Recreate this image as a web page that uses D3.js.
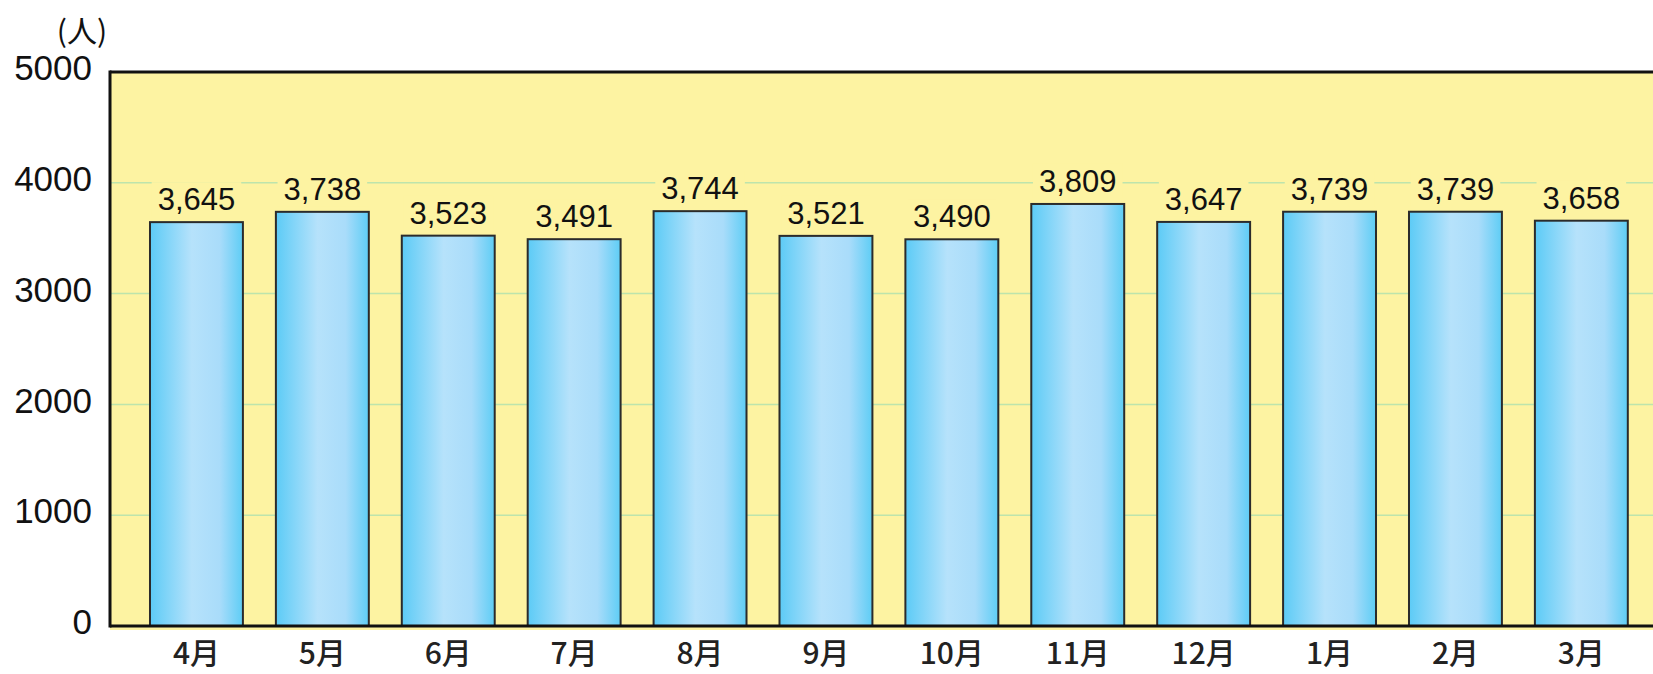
<!DOCTYPE html>
<html>
<head>
<meta charset="utf-8">
<script src="https://cdn.jsdelivr.net/npm/d3@7"></script>
<style>
  body { margin: 0; background: #fff; }
  svg { display: block; }
</style>
</head>
<body>
<div id="chart"></div>
<script>
// Data
const months = ["4月", "5月", "6月", "7月", "8月", "9月", "10月", "11月", "12月", "1月", "2月", "3月"];
const visitors = [3645, 3738, 3523, 3491, 3744, 3521, 3490, 3809, 3647, 3739, 3739, 3658];
const yTicks = [0, 1000, 2000, 3000, 4000, 5000];
const unitLabel = "(人)";

const width = 1653;
const height = 674;

const svg = d3.select("#chart")
  .append("svg")
  .attr("width", width)
  .attr("height", height);

// Scales
const yScale = d3.scaleLinear().domain([0, 5000]).range([626, 72]);
const xScale = d3.scaleBand()
  .domain(months)
  .range([133.5, 1644.3])
  .paddingInner(0.262)
  .paddingOuter(0.131);

// Bar gradient
const defs = svg.append("defs");
const grad = defs.append("linearGradient")
  .attr("id", "barGrad")
  .attr("x1", "0%").attr("x2", "100%")
  .attr("y1", "0%").attr("y2", "0%");
grad.append("stop").attr("offset", "0%").attr("stop-color", "#5ccbf6");
grad.append("stop").attr("offset", "45%").attr("stop-color", "#b6e2fb");
grad.append("stop").attr("offset", "75%").attr("stop-color", "#a9dcfa");
grad.append("stop").attr("offset", "100%").attr("stop-color", "#5ecdf5");

// Plot background
svg.append("rect")
  .attr("x", 110)
  .attr("y", yScale(5000))
  .attr("width", width - 110 + 20)
  .attr("height", yScale(0) - yScale(5000) + 4)
  .attr("fill", "#fdf3a2");

// Gridlines
svg.append("g")
  .selectAll("line")
  .data(yTicks.filter((d) => d > 0 && d < 5000))
  .join("line")
  .attr("x1", 110)
  .attr("x2", width + 10)
  .attr("y1", (d) => yScale(d))
  .attr("y2", (d) => yScale(d))
  .attr("stroke", "#bde4ac")
  .attr("stroke-width", 1.5);

// Bars
svg.append("g")
  .selectAll("rect")
  .data(visitors)
  .join("rect")
  .attr("x", (d, i) => xScale(months[i]))
  .attr("y", (d) => yScale(d))
  .attr("width", xScale.bandwidth())
  .attr("height", (d) => yScale(0) - yScale(d))
  .attr("fill", "url(#barGrad)")
  .attr("stroke", "#2b2b2b")
  .attr("stroke-width", 2);

// Value labels with background to break the gridline
const labels = svg.append("g")
  .selectAll("g")
  .data(visitors)
  .join("g");

labels.append("rect").attr("fill", "#fdf3a2");
labels.append("text")
  .attr("x", (d, i) => xScale(months[i]) + xScale.bandwidth() / 2)
  .attr("y", (d) => yScale(d) - 12)
  .attr("text-anchor", "middle")
  .attr("font-family", "'Liberation Sans', Arial, sans-serif")
  .attr("font-size", 31)
  .attr("fill", "#111")
  .text((d) => d3.format(",")(d));

labels.each(function () {
  const g = d3.select(this);
  const box = g.select("text").node().getBBox();
  g.select("rect")
    .attr("x", box.x - 6)
    .attr("y", box.y)
    .attr("width", box.width + 12)
    .attr("height", box.height);
});

// Frame lines
svg.append("line")
  .attr("x1", 110).attr("x2", width + 10)
  .attr("y1", yScale(5000)).attr("y2", yScale(5000))
  .attr("stroke", "#111").attr("stroke-width", 3);
svg.append("line")
  .attr("x1", 110).attr("x2", 110)
  .attr("y1", yScale(5000) - 1.5).attr("y2", yScale(0) + 1.5)
  .attr("stroke", "#111").attr("stroke-width", 3);
svg.append("line")
  .attr("x1", 110).attr("x2", width + 10)
  .attr("y1", yScale(0)).attr("y2", yScale(0))
  .attr("stroke", "#111").attr("stroke-width", 3);

// Y axis labels
svg.append("g")
  .selectAll("text")
  .data(yTicks)
  .join("text")
  .attr("x", 92)
  .attr("y", (d) => yScale(d) - 4)
  .attr("dy", "0.35em")
  .attr("text-anchor", "end")
  .attr("font-family", "'Liberation Sans', Arial, sans-serif")
  .attr("font-size", 35)
  .attr("fill", "#111")
  .text((d) => d);

// X axis labels
svg.append("g")
  .selectAll("text")
  .data(months)
  .join("text")
  .attr("x", (d) => xScale(d) + xScale.bandwidth() / 2)
  .attr("y", 664)
  .attr("text-anchor", "middle")
  .attr("font-family", "'Noto Sans CJK JP', sans-serif")
  .attr("font-weight", 500)
  .attr("font-size", 30)
  .attr("fill", "#222")
  .text((d) => d);

// Unit label
svg.append("text")
  .attr("x", 82)
  .attr("y", 42)
  .attr("text-anchor", "middle")
  .attr("font-family", "'Noto Sans CJK JP', sans-serif")
  .attr("font-size", 30)
  .attr("fill", "#111")
  .text(unitLabel);
</script>
</body>
</html>
